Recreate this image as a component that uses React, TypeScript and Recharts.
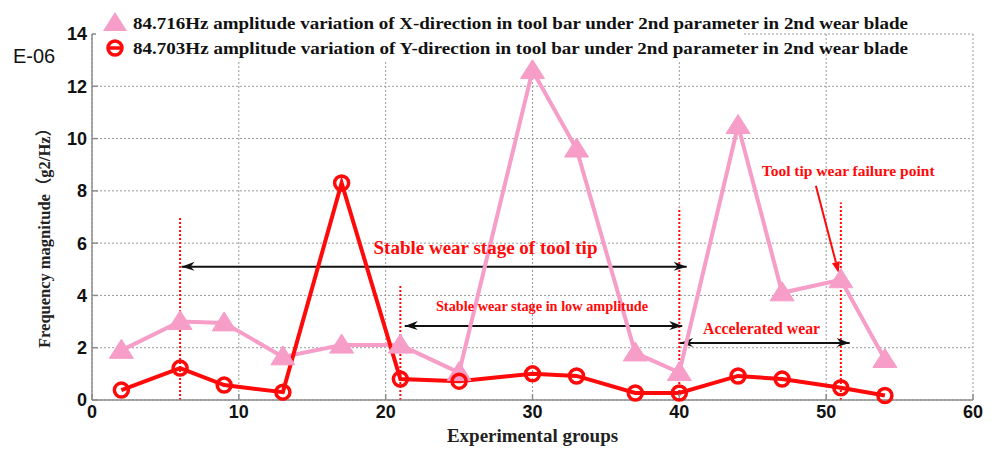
import React from 'react';
import {
  LineChart,
  Line,
  XAxis,
  YAxis,
  CartesianGrid,
  ReferenceLine,
  ReferenceDot,
  Label,
} from 'recharts';

// experimental group index on the x axis
const groups = [2, 6, 9, 13, 17, 21, 25, 30, 33, 37, 40, 44, 47, 51, 54];
// 84.716Hz X-direction amplitude (E-06 g2/Hz)
const xAmplitude = [1.9, 3.0, 2.95, 1.65, 2.1, 2.1, 1.05, 12.6, 9.6, 1.8, 1.05, 10.5, 4.1, 4.6, 1.55];
// 84.703Hz Y-direction amplitude (E-06 g2/Hz)
const yAmplitude = [0.38, 1.22, 0.57, 0.3, 8.3, 0.8, 0.72, 1.0, 0.92, 0.27, 0.27, 0.92, 0.8, 0.47, 0.17];

const xTicks = [0, 10, 20, 30, 40, 50, 60];
const yTicks = [0, 2, 4, 6, 8, 10, 12, 14];

const legendX = '84.716Hz amplitude variation of X-direction in tool bar under 2nd parameter in 2nd wear blade';
const legendY = '84.703Hz amplitude variation of Y-direction in tool bar under 2nd parameter in 2nd wear blade';

// stage boundaries: [group, height of the dotted marker]
const stageMarks = [
  [6, 7.0],
  [21, 4.4],
  [40, 7.35],
  [51, 7.55],
];

// stage spans: [from, to, level]
const stageSpans = [
  [6.1, 40.5, 5.1],
  [21.3, 40.2, 2.83],
  [40.05, 51.6, 2.18],
];

const notes = [
  { x: 26.8, y: 5.85, text: 'Stable wear stage of tool tip', size: 19 },
  { x: 30.65, y: 3.6, text: 'Stable wear stage in low amplitude', size: 14.3 },
  { x: 45.6, y: 2.72, text: 'Accelerated wear', size: 15.8 },
  { x: 51.5, y: 8.76, text: 'Tool tip wear failure point', size: 15.5 },
];

const data = groups.map((g, i) => ({ group: g, xAmp: xAmplitude[i], yAmp: yAmplitude[i] }));

const PINK = '#f69dc8';
const RED = '#ff0a0a';
const AXIS = '#8c8c8c';
const SERIF = '"Liberation Serif", "Times New Roman", "Noto Sans CJK SC", serif';
const SANS = '"Liberation Sans", Arial, sans-serif';

const tickFont = { fontFamily: SANS, fontSize: 18, fontWeight: 'bold', fill: '#111' };

const Triangle = (props: any) => {
  const { cx, cy, index } = props;
  if (cx == null || cy == null) return <g key={index} />;
  return (
    <polygon
      key={index}
      points={`${cx},${cy - 11} ${cx - 12},${cy + 8} ${cx + 12},${cy + 8}`}
      fill={PINK}
      stroke={PINK}
      strokeWidth={1}
    />
  );
};

const Ring = (props: any) => {
  const { cx, cy, index } = props;
  if (cx == null || cy == null) return <g key={index} />;
  return <circle key={index} cx={cx} cy={cy} r={7} fill="none" stroke={RED} strokeWidth={3.5} />;
};

// horizontal double-headed arrow
const SpanArrow = (props: any) => {
  const { x1, y1, x2 } = props;
  const y = y1;
  return (
    <g>
      <line x1={x1} y1={y} x2={x2} y2={y} stroke="#111" strokeWidth={2} />
      <path d={`M${x1},${y} L${x1 + 13},${y - 5} L${x1 + 9},${y} L${x1 + 13},${y + 4} Z`} fill="#111" />
      <path d={`M${x2},${y} L${x2 - 13},${y - 5} L${x2 - 9},${y} L${x2 - 13},${y + 4} Z`} fill="#111" />
    </g>
  );
};

const PointerArrow = (props: any) => {
  const { x1, y1, x2, y2 } = props;
  const ang = Math.atan2(y2 - y1, x2 - x1);
  const hx = x2 - 11 * Math.cos(ang);
  const hy = y2 - 11 * Math.sin(ang);
  const px = -Math.sin(ang) * 4;
  const py = Math.cos(ang) * 4;
  return (
    <g>
      <line x1={x1} y1={y1} x2={hx} y2={hy} stroke={RED} strokeWidth={2} />
      <path d={`M${x2},${y2} L${hx + px},${hy + py} L${hx - px},${hy - py} Z`} fill={RED} />
    </g>
  );
};

const YTitle = (props: any) => {
  const { viewBox } = props;
  const cy = viewBox.y + viewBox.height / 2 + 17;
  return (
    <g>
      <text x={34} y={56} textAnchor="middle" dominantBaseline="central" fontFamily={SANS} fontSize={20} fill="#111">
        E-06
      </text>
      <text
        x={44}
        y={cy}
        transform={`rotate(-90, 44, ${cy})`}
        textAnchor="middle"
        dominantBaseline="central"
        fontFamily={SERIF}
        fontWeight="bold"
        fontSize={16.5}
        fill="#222"
        textLength={228}
        lengthAdjust="spacingAndGlyphs"
      >
        Frequency magnitude（g2/Hz）
      </text>
    </g>
  );
};

const LegendBox = () => (
  <svg width={999} height={62} style={{ position: 'absolute', left: 0, top: 0, pointerEvents: 'none' }}>
    <rect x={96} y={0} width={647} height={60} fill="#fff" />
    <polygon points="115,12 103,31 127,31" fill={PINK} />
    <text x={133} y={29} fontFamily={SERIF} fontWeight="bold" fontSize={17} fill="#111" textLength={775} lengthAdjust="spacingAndGlyphs">
      {legendX}
    </text>
    <circle cx={115} cy={48} r={7} fill="none" stroke={RED} strokeWidth={3.5} />
    <line x1={108} y1={48} x2={122} y2={48} stroke={RED} strokeWidth={3.5} />
    <text x={133} y={54} fontFamily={SERIF} fontWeight="bold" fontSize={17} fill="#111" textLength={775} lengthAdjust="spacingAndGlyphs">
      {legendY}
    </text>
  </svg>
);

export default function App() {
  return (
    <div style={{ position: 'absolute', left: 0, top: 0, width: 999, height: 450, background: '#fff' }}>
      <LineChart width={999} height={450} data={data} margin={{ top: 34, right: 26, left: 42, bottom: 20 }}>
        <CartesianGrid stroke="#9a9a9a" strokeDasharray="2 2" strokeWidth={1} />
        {/* bottom / left axes with inward ticks */}
        <XAxis
          dataKey="group"
          type="number"
          domain={[0, 60]}
          ticks={xTicks}
          height={30}
          tickSize={-6}
          tickMargin={11}
          axisLine={{ stroke: AXIS, strokeWidth: 1.5 }}
          tickLine={{ stroke: AXIS, strokeWidth: 1.5 }}
          tick={tickFont}
        >
          <Label
            value="Experimental groups"
            position="bottom"
            offset={-1}
            style={{ fontFamily: SERIF, fontWeight: 'bold', fontSize: 19, fill: '#222' }}
          />
        </XAxis>
        <YAxis
          type="number"
          domain={[0, 14]}
          ticks={yTicks}
          width={50}
          tickSize={-6}
          tickMargin={11}
          axisLine={{ stroke: AXIS, strokeWidth: 1.5 }}
          tickLine={{ stroke: AXIS, strokeWidth: 1.5 }}
          tick={tickFont}
        >
          <Label content={YTitle} />
        </YAxis>
        {/* top / right box edges */}
        <XAxis
          xAxisId="top"
          orientation="top"
          type="number"
          domain={[0, 60]}
          ticks={xTicks}
          height={0}
          tickSize={-6}
          tick={false}
          axisLine={{ stroke: AXIS, strokeWidth: 1.5 }}
          tickLine={{ stroke: AXIS, strokeWidth: 1.5 }}
        />
        <YAxis
          yAxisId="right"
          orientation="right"
          type="number"
          domain={[0, 14]}
          ticks={yTicks}
          width={0}
          tickSize={-6}
          tick={false}
          axisLine={{ stroke: AXIS, strokeWidth: 1.5 }}
          tickLine={{ stroke: AXIS, strokeWidth: 1.5 }}
        />

        {stageMarks.map(([g, h]) => (
          <ReferenceLine
            key={`m${g}`}
            segment={[{ x: g, y: 0 }, { x: g, y: h }]}
            stroke={RED}
            strokeWidth={2}
            strokeDasharray="2 2"
          />
        ))}
        {stageSpans.map(([a, b, lv]) => (
          <ReferenceLine
            key={`s${a}`}
            segment={[{ x: a, y: lv }, { x: b, y: lv }]}
            shape={SpanArrow}
          />
        ))}
        <ReferenceLine segment={[{ x: 49.3, y: 8.2 }, { x: 50.85, y: 4.86 }]} shape={PointerArrow} />

        <Line
          dataKey="xAmp"
          stroke={PINK}
          strokeWidth={4}
          dot={Triangle}
          activeDot={false}
          isAnimationActive={false}
        />
        <Line
          dataKey="yAmp"
          stroke={RED}
          strokeWidth={4}
          dot={Ring}
          activeDot={false}
          isAnimationActive={false}
        />

        {notes.map((n) => (
          <ReferenceDot
            key={n.text}
            x={n.x}
            y={n.y}
            r={0}
            shape={(p: any) => (
              <text
                x={p.cx}
                y={p.cy}
                textAnchor="middle"
                dominantBaseline="central"
                fontFamily={SERIF}
                fontWeight="bold"
                fontSize={n.size}
                fill={RED}
              >
                {n.text}
              </text>
            )}
          />
        ))}
      </LineChart>
      <LegendBox />
    </div>
  );
}
